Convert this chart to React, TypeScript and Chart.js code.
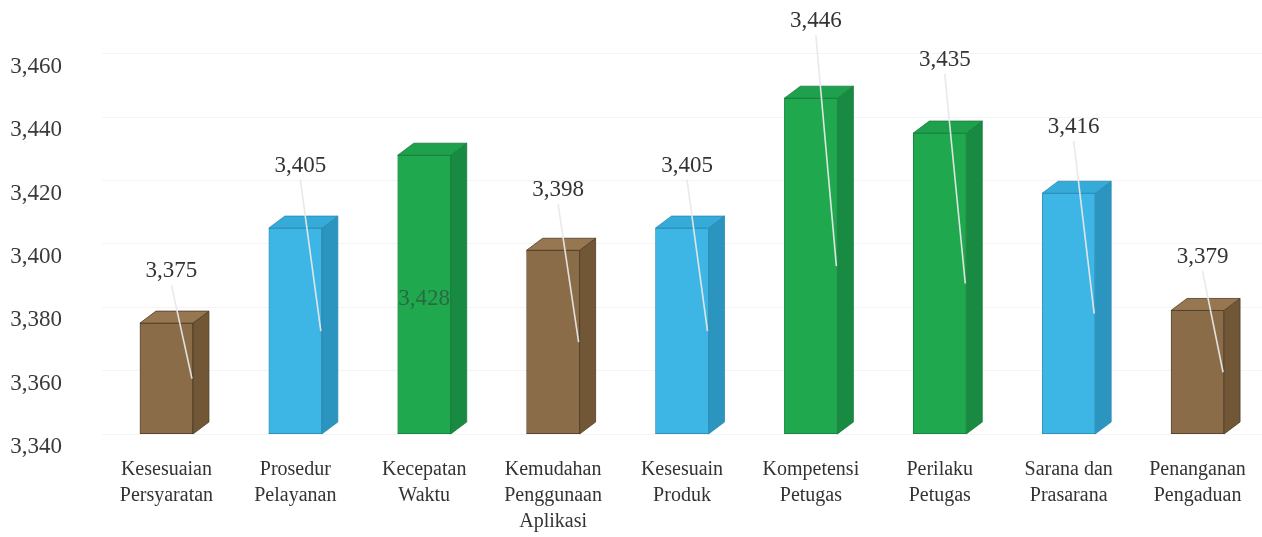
import React, { useEffect, useRef } from 'react';
import { Chart, registerables } from 'chart.js';

Chart.register(...registerables);

// ---- data ----
const CATEGORIES: string[][] = [
  ['Kesesuaian', 'Persyaratan'],
  ['Prosedur', 'Pelayanan'],
  ['Kecepatan', 'Waktu'],
  ['Kemudahan', 'Penggunaan', 'Aplikasi'],
  ['Kesesuain', 'Produk'],
  ['Kompetensi', 'Petugas'],
  ['Perilaku', 'Petugas'],
  ['Sarana dan', 'Prasarana'],
  ['Penanganan', 'Pengaduan'],
];
const VALUES: number[] = [3.375, 3.405, 3.428, 3.398, 3.405, 3.446, 3.435, 3.416, 3.379];
const Y_MIN = 3.34;
const Y_MAX = 3.477;
const Y_STEP = 0.02;

// ---- styles ----
const COLOR_GROUP = ['brown', 'blue', 'green', 'brown', 'blue', 'green', 'green', 'blue', 'brown'];
const LABEL_INSIDE = [false, false, true, false, false, false, false, false, false];
const PALETTE: Record<string, { front: string; side: string; top: string; edge: string }> = {
  brown: { front: '#8b6c48', side: '#715736', top: '#977751', edge: '#4d3c27' },
  blue: { front: '#3db5e5', side: '#2b94bf', top: '#36aad9', edge: '#2a8cb5' },
  green: { front: '#20a84f', side: '#188a41', top: '#1fa04c', edge: '#167e3b' },
};
const DEPTH_X = 16;
const DEPTH_Y = 12;
const SERIF = "'Liberation Serif', 'Times New Roman', serif";

const fmt = (v: number) => v.toFixed(3).replace('.', ',');
const toMilli = (v: number) => Math.round(v * 1000);

const barBase = (chart: any) => {
  const ys = chart.scales.y;
  return ys.getPixelForValue(ys.min);
};

const bar3d = {
  id: 'bar3d',
  afterDatasetsDraw(chart: any) {
    const ctx = chart.ctx as CanvasRenderingContext2D;
    const meta = chart.getDatasetMeta(0);
    const base = barBase(chart);
    ctx.save();
    meta.data.forEach((bar: any, i: number) => {
      const { x, y, width } = bar.getProps(['x', 'y', 'width'], true);
      const x0 = x - width / 2;
      const x1 = x + width / 2;
      const pal = PALETTE[COLOR_GROUP[i]];
      ctx.lineWidth = 0.8;
      ctx.strokeStyle = pal.edge;
      // side face
      ctx.beginPath();
      ctx.moveTo(x1, y);
      ctx.lineTo(x1 + DEPTH_X, y - DEPTH_Y);
      ctx.lineTo(x1 + DEPTH_X, base - DEPTH_Y);
      ctx.lineTo(x1, base);
      ctx.closePath();
      ctx.fillStyle = pal.side;
      ctx.fill();
      ctx.stroke();
      // top face
      ctx.beginPath();
      ctx.moveTo(x0, y);
      ctx.lineTo(x0 + DEPTH_X, y - DEPTH_Y);
      ctx.lineTo(x1 + DEPTH_X, y - DEPTH_Y);
      ctx.lineTo(x1, y);
      ctx.closePath();
      ctx.fillStyle = pal.top;
      ctx.fill();
      ctx.stroke();
      // bottom edge of the front face
      ctx.beginPath();
      ctx.moveTo(x0, base - 0.5);
      ctx.lineTo(x1, base - 0.5);
      ctx.stroke();
    });
    ctx.restore();
  },
};

const valueLabels = {
  id: 'valueLabels',
  afterDatasetsDraw(chart: any) {
    const ctx = chart.ctx as CanvasRenderingContext2D;
    const meta = chart.getDatasetMeta(0);
    const base = barBase(chart);
    ctx.save();
    ctx.font = `23px ${SERIF}`;
    ctx.textAlign = 'center';
    ctx.textBaseline = 'middle';
    meta.data.forEach((bar: any, i: number) => {
      const { x, y, width } = bar.getProps(['x', 'y', 'width'], true);
      const v = VALUES[i];
      const midY = (y + base) / 2;
      if (LABEL_INSIDE[i]) {
        ctx.fillStyle = 'rgba(45,85,60,0.75)';
        ctx.fillText(fmt(v), x, midY + 4);
        return;
      }
      const lx = x + 5;
      const ly = y - (52 + (toMilli(v) - 3375) * 0.35);
      ctx.strokeStyle = 'rgba(232,232,232,0.95)';
      ctx.lineWidth = 1.6;
      ctx.beginPath();
      ctx.moveTo(lx, ly + 14);
      ctx.lineTo(x + width / 2 - 1, midY);
      ctx.stroke();
      ctx.fillStyle = '#333333';
      ctx.fillText(fmt(v), lx, ly);
    });
    ctx.restore();
  },
};

export default function App() {
  const ref = useRef<HTMLCanvasElement>(null);

  useEffect(() => {
    if (!ref.current) return;
    const chart = new Chart(ref.current, {
      type: 'bar',
      data: {
        labels: CATEGORIES,
        datasets: [
          {
            data: VALUES.map(toMilli),
            backgroundColor: COLOR_GROUP.map((g) => PALETTE[g].front),
            borderColor: COLOR_GROUP.map((g) => PALETTE[g].edge),
            borderWidth: 0.8,
            barThickness: 53,
          },
        ],
      },
      options: {
        animation: false,
        responsive: true,
        maintainAspectRatio: false,
        layout: { padding: 0 },
        plugins: {
          legend: { display: false },
          tooltip: { enabled: false },
          title: { display: false },
        },
        scales: {
          x: {
            grid: { display: false, drawTicks: false },
            border: { display: false },
            ticks: {
              color: '#333333',
              padding: 23,
              maxRotation: 0,
              autoSkip: false,
              font: { family: SERIF, size: 20, lineHeight: 1.3 },
            },
            afterFit: (s: any) => {
              s.height = 103;
              s.paddingLeft = 0;
              s.paddingRight = 0;
            },
          },
          y: {
            min: toMilli(Y_MIN),
            max: toMilli(Y_MAX),
            grid: { color: '#f4f4f4', drawTicks: false },
            border: { display: false },
            ticks: {
              stepSize: toMilli(Y_STEP),
              includeBounds: false,
              padding: 40,
              labelOffset: 13,
              color: '#3a3a3a',
              font: { family: SERIF, size: 23 },
              callback: (v: any) => fmt(Number(v) / 1000),
            },
            afterFit: (s: any) => {
              s.width = 102;
              s.paddingTop = 0;
              s.paddingBottom = 0;
            },
          },
        },
      },
      plugins: [bar3d, valueLabels],
    });
    return () => chart.destroy();
  }, []);

  return (
    <div style={{ position: 'absolute', left: 0, top: 0, width: 1262, height: 537, background: '#ffffff' }}>
      <canvas ref={ref} />
    </div>
  );
}
